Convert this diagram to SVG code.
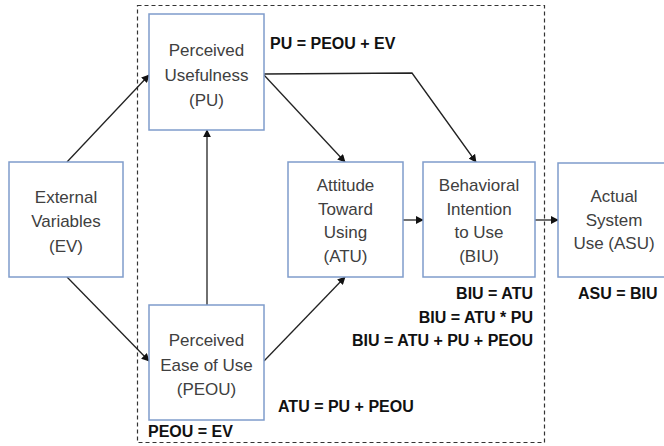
<svg xmlns="http://www.w3.org/2000/svg" width="664" height="446" viewBox="0 0 664 446">
<style>
.box{fill:#fff;stroke:#7f9ccb;stroke-width:1.5}
.t{font-family:"Liberation Sans",Arial,sans-serif;font-size:17px;fill:#404040;text-anchor:middle}
.b{font-family:"Liberation Sans",Arial,sans-serif;font-size:16px;font-weight:bold;fill:#111}
.c{fill:none;stroke:#222;stroke-width:1.3}
</style>
<defs>
<marker id="ah" viewBox="0 0 10 10" refX="9" refY="5" markerWidth="8" markerHeight="8" markerUnits="userSpaceOnUse" orient="auto">
<path d="M0,0 L10,5 L0,10 z" fill="#111"/>
</marker>
</defs>
<rect x="0" y="0" width="664" height="446" fill="#fff"/>
<rect id="boundary" x="137.5" y="5.5" width="407" height="437" fill="none" stroke="#333" stroke-width="1.2" stroke-dasharray="4,3"/>
<g id="connectors">
<path class="c" d="M67,162 L149,75" marker-end="url(#ah)"/>
<path class="c" d="M67,277 L149,361" marker-end="url(#ah)"/>
<path class="c" d="M207,305 L207,130" marker-end="url(#ah)"/>
<path class="c" d="M264,361 L345,277" marker-end="url(#ah)"/>
<path class="c" d="M264,75 L345,162" marker-end="url(#ah)"/>
<path class="c" d="M264,74 L412,73 L476,162" marker-end="url(#ah)"/>
<path class="c" d="M403,220 L423,220" marker-end="url(#ah)"/>
<path class="c" d="M535,220 L558,220" marker-end="url(#ah)"/>
</g>
<g id="PU">
<rect class="box" x="149" y="14" width="115" height="116"/>
<text class="t" x="206.5" y="56">Perceived</text>
<text class="t" x="206.5" y="81">Usefulness</text>
<text class="t" x="206.5" y="106">(PU)</text>
</g>
<g id="EV">
<rect class="box" x="9" y="162" width="114" height="115"/>
<text class="t" x="66" y="203">External</text>
<text class="t" x="66" y="227">Variables</text>
<text class="t" x="66" y="252">(EV)</text>
</g>
<g id="PEOU">
<rect class="box" x="149" y="305" width="115" height="115"/>
<text class="t" x="206.5" y="346">Perceived</text>
<text class="t" x="206.5" y="371">Ease of Use</text>
<text class="t" x="206.5" y="395">(PEOU)</text>
</g>
<g id="ATU">
<rect class="box" x="288" y="162" width="115" height="115"/>
<text class="t" x="345.5" y="191">Attitude</text>
<text class="t" x="345.5" y="215">Toward</text>
<text class="t" x="345.5" y="238">Using</text>
<text class="t" x="345.5" y="262">(ATU)</text>
</g>
<g id="BIU">
<rect class="box" x="423" y="162" width="112" height="115"/>
<text class="t" x="479" y="191">Behavioral</text>
<text class="t" x="479" y="215">Intention</text>
<text class="t" x="479" y="238">to Use</text>
<text class="t" x="479" y="262">(BIU)</text>
</g>
<g id="ASU">
<rect class="box" x="558" y="163" width="110" height="114"/>
<text class="t" x="614" y="202">Actual</text>
<text class="t" x="614" y="226">System</text>
<text class="t" x="614" y="249">Use (ASU)</text>
</g>
<g id="labels">
<text class="b" x="270" y="49">PU = PEOU + EV</text>
<text class="b" x="533" y="299" text-anchor="end">BIU = ATU</text>
<text class="b" x="533" y="323" text-anchor="end">BIU = ATU * PU</text>
<text class="b" x="533" y="346" text-anchor="end">BIU = ATU + PU + PEOU</text>
<text class="b" x="578" y="299">ASU = BIU</text>
<text class="b" x="278" y="412">ATU = PU + PEOU</text>
<text class="b" x="148" y="437">PEOU = EV</text>
</g>
</svg>
